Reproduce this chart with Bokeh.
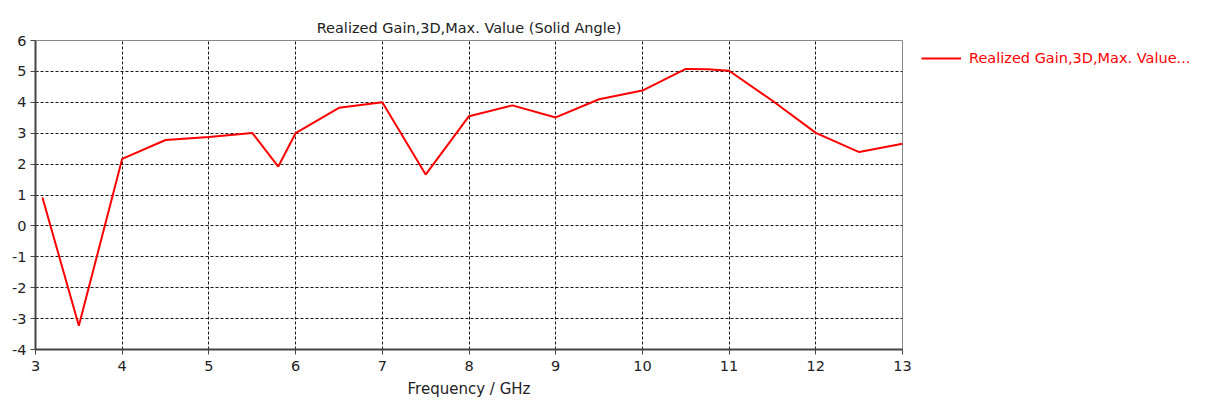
from bokeh.plotting import figure
from bokeh.models import Range1d, FixedTicker, Legend, LegendItem, PrintfTickFormatter
from bokeh.embed import file_html
from bokeh.resources import INLINE

freq_ghz = [3.08, 3.5, 4.0, 4.5, 5.0, 5.5, 5.8, 6.0, 6.5, 7.0, 7.5, 8.0, 8.5, 9.0, 9.5,
            10.0, 10.5, 10.75, 11.0, 11.5, 12.0, 12.5, 13.0]
gain_dbi = [0.92, -3.23, 2.17, 2.78, 2.88, 3.01, 1.92, 3.0, 3.82, 4.0, 1.66, 3.55, 3.9,
            3.51, 4.1, 4.38, 5.08, 5.07, 5.02, 4.05, 3.01, 2.39, 2.66]
x_ticks = [3, 4, 5, 6, 7, 8, 9, 10, 11, 12, 13]
y_ticks = [-4, -3, -2, -1, 0, 1, 2, 3, 4, 5, 6]
title_text = "Realized Gain,3D,Max. Value (Solid Angle)"
legend_text = "Realized Gain,3D,Max. Value..."
x_label = "Frequency / GHz"

FONT = "DejaVu Sans"

p = figure(frame_width=867, frame_height=309, output_backend="svg", toolbar_location=None,
           x_range=Range1d(3, 13), y_range=Range1d(-4, 6),
           min_border_left=35, min_border_top=40, min_border_right=290, min_border_bottom=58)

p.title.text = title_text
p.title.align = "center"
p.title.text_font = FONT
p.title.text_font_size = "14.5px"
p.title.text_font_style = "normal"
p.title.text_color = "#222222"
p.title.standoff = 10

p.outline_line_color = "#888888"
p.outline_line_width = 1
p.background_fill_color = "white"
p.border_fill_color = "white"

for ax in (p.xaxis[0], p.yaxis[0]):
    ax.axis_line_color = "#444444"
    ax.axis_line_width = 2
    ax.major_tick_line_color = "#444444"
    ax.major_tick_out = 5
    ax.major_tick_in = 0
    ax.minor_tick_line_color = None
    ax.major_label_text_font = FONT
    ax.major_label_text_font_size = "14.5px"
    ax.major_label_text_color = "#222222"
    ax.formatter = PrintfTickFormatter(format="%d")

p.xaxis.ticker = FixedTicker(ticks=x_ticks)
p.yaxis.ticker = FixedTicker(ticks=y_ticks)
p.xaxis.axis_label = x_label
p.xaxis.axis_label_text_font = FONT
p.xaxis.axis_label_text_font_size = "15px"
p.xaxis.axis_label_text_font_style = "normal"
p.xaxis.axis_label_text_color = "#222222"
p.xaxis.axis_label_standoff = 6
p.yaxis.major_label_standoff = 4
p.xaxis.major_label_standoff = 6

p.grid.grid_line_color = "black"
p.grid.grid_line_dash = "3 2"
p.grid.grid_line_width = 1
p.grid.grid_line_alpha = 0.9

r = p.line(freq_ghz, gain_dbi, line_color="#ff0000", line_width=2)

legend = Legend(items=[LegendItem(label=legend_text, renderers=[r])],
                location=(19, 281), orientation="vertical",
                border_line_color=None, background_fill_alpha=0,
                label_text_font=FONT, label_text_font_size="14.5px",
                label_text_color="#ff0000", glyph_width=40, label_standoff=8,
                padding=0, margin=0)
p.add_layout(legend, "right")

open("out.html", "w").write(file_html(p, INLINE))
